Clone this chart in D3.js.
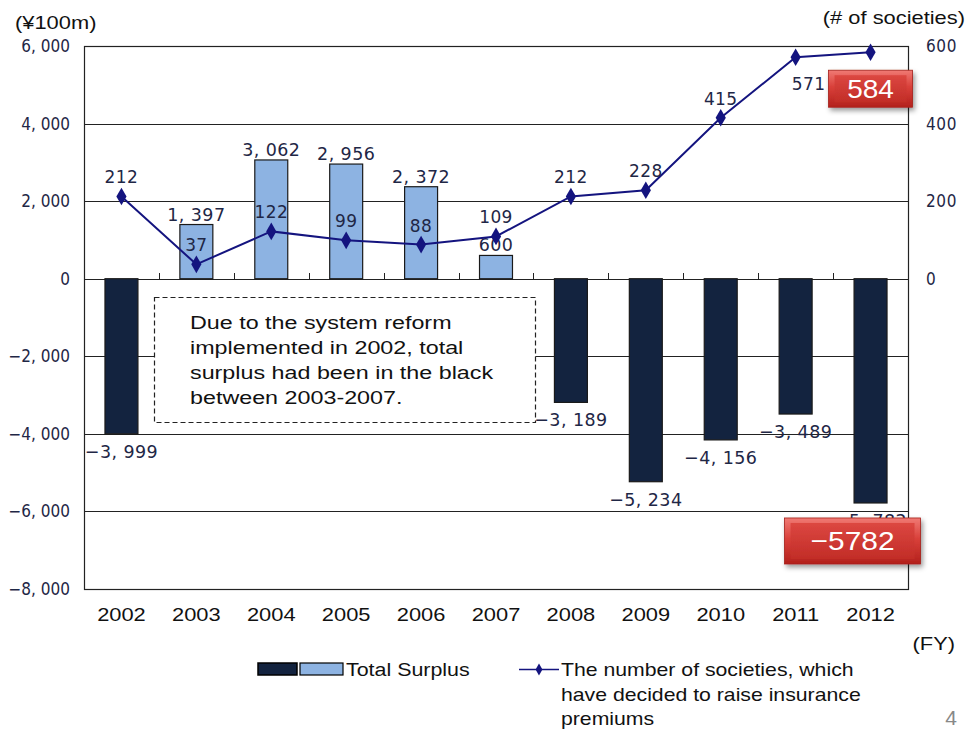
<!DOCTYPE html>
<html>
<head>
<meta charset="utf-8">
<script src="https://cdn.jsdelivr.net/npm/d3@7/dist/d3.min.js"></script>
<style>
  html, body { margin: 0; padding: 0; background: #fff; }
  svg { display: block; }
</style>
</head>
<body>
<svg id="chart" width="967" height="730"></svg>
<script>
// Fiscal years
const years = ["2002", "2003", "2004", "2005", "2006", "2007", "2008", "2009", "2010", "2011", "2012"];
// Total surplus of health insurance societies (¥100m)
const surplus = [-3999, 1397, 3062, 2956, 2372, 600, -3189, -5234, -4156, -3489, -5782];
// Number of societies that decided to raise insurance premiums
const societies = [212, 37, 122, 99, 88, 109, 212, 228, 415, 571, 584];
// Axis ticks
const leftTicks = [6000, 4000, 2000, 0, -2000, -4000, -6000, -8000];
const rightTicks = [0, 200, 400, 600];
const noteLines = [
  "Due to the system reform",
  "implemented in 2002, total",
  "surplus had been in the black",
  "between 2003-2007."
];
const legendLineText = [
  "The number of societies, which",
  "have decided to raise insurance",
  "premiums"
];

const svg = d3.select("#chart");
const M = { left: 84, right: 908, top: 46, bottom: 589 };
const SANS = "'Liberation Sans', Arial, Helvetica, sans-serif";
const NARROW = "'DejaVu Sans Condensed', 'Liberation Sans Narrow', 'Arial Narrow', sans-serif";
const LABEL_COLOR = "#1f2746";
const DARK_BAR = "#13233f";
const LIGHT_BAR = "#8db3e2";
const LINE_COLOR = "#14147f";
const SX = 1.25; // horizontal stretch of the slide text

const x = d3.scaleBand().domain(years).range([M.left, M.right])
  .paddingInner(0.56).paddingOuter(0.28);
const yL = d3.scaleLinear().domain([-8000, 6000]).range([M.bottom, M.top]);
const yR = d3.scaleLinear().domain([-800, 600]).range([M.bottom, M.top]);
const fmt = v => (v < 0 ? "\u2212" : "") + d3.format(",")(Math.abs(v)).replace(",", ", ");
const place = (px, py, sx) => `translate(${px},${py}) scale(${sx},1)`;

// defs: gradients and shadow for the callout boxes
const defs = svg.append("defs");
const g1 = defs.append("linearGradient").attr("id", "redGrad").attr("x1", 0).attr("y1", 0).attr("x2", 0).attr("y2", 1);
g1.append("stop").attr("offset", "0%").attr("stop-color", "#f07a74");
g1.append("stop").attr("offset", "45%").attr("stop-color", "#d9403a");
g1.append("stop").attr("offset", "100%").attr("stop-color", "#b3211c");
const g2 = defs.append("linearGradient").attr("id", "redInner").attr("x1", 0).attr("y1", 0).attr("x2", 0).attr("y2", 1);
g2.append("stop").attr("offset", "0%").attr("stop-color", "#dc4741");
g2.append("stop").attr("offset", "100%").attr("stop-color", "#c22d27");
const sh = defs.append("filter").attr("id", "shadow").attr("x", "-20%").attr("y", "-20%").attr("width", "150%").attr("height", "160%");
sh.append("feDropShadow").attr("dx", 2).attr("dy", 3).attr("stdDeviation", 2.5).attr("flood-color", "#000").attr("flood-opacity", 0.4);

// gridlines
svg.append("g").selectAll("line").data(leftTicks).join("line")
  .attr("x1", M.left).attr("x2", M.right)
  .attr("y1", d => Math.round(yL(d)) + 0.5).attr("y2", d => Math.round(yL(d)) + 0.5)
  .attr("stroke", "#222").attr("stroke-width", 1);

// category tick marks on the zero line
const bounds = years.slice(1).map(yr => x(yr) - x.step() * x.paddingInner() / 2);
svg.append("g").selectAll("line").data(bounds).join("line")
  .attr("x1", d => Math.round(d) + 0.5).attr("x2", d => Math.round(d) + 0.5)
  .attr("y1", Math.round(yL(0)) - 6).attr("y2", Math.round(yL(0)))
  .attr("stroke", "#222");

// plot frame
svg.append("rect")
  .attr("x", M.left + 0.5).attr("y", M.top + 0.5)
  .attr("width", M.right - M.left).attr("height", M.bottom - M.top)
  .attr("fill", "none").attr("stroke", "#222").attr("stroke-width", 1.2);

// bars
svg.append("g").selectAll("rect").data(surplus).join("rect")
  .attr("x", (d, i) => x(years[i]))
  .attr("width", x.bandwidth())
  .attr("y", d => yL(Math.max(0, d)))
  .attr("height", d => Math.abs(yL(d) - yL(0)))
  .attr("fill", d => d < 0 ? DARK_BAR : LIGHT_BAR)
  .attr("stroke", "#1a1a1a").attr("stroke-width", 1.2);

// annotation box (white fill hides gridlines behind it)
const note = svg.append("g");
note.append("rect").attr("x", 154.5).attr("y", 297.5).attr("width", 381).attr("height", 125)
  .attr("fill", "#fff").attr("stroke", "#222").attr("stroke-width", 1.2)
  .attr("stroke-dasharray", "5,3");
note.selectAll("text").data(noteLines).join("text")
  .attr("transform", (d, i) => place(190, 329 + i * 25, 1.26))
  .attr("font-family", SANS).attr("font-size", 18.5).attr("fill", "#111")
  .text(d => d);

// bar value labels
svg.append("g").selectAll("text").data(surplus).join("text")
  .attr("transform", (d, i) => place(x(years[i]) + x.bandwidth() / 2,
    d >= 0 ? yL(d) - 4 : yL(d) + 24, 1.08))
  .attr("text-anchor", "middle")
  .attr("font-family", NARROW).attr("font-size", 18).attr("letter-spacing", 0.4)
  .attr("fill", LABEL_COLOR)
  .text(d => fmt(d));

// society count line
const cx = i => x(years[i]) + x.bandwidth() / 2;
const line = d3.line().x((d, i) => cx(i)).y(d => yR(d));
svg.append("path").datum(societies)
  .attr("d", line).attr("fill", "none")
  .attr("stroke", LINE_COLOR).attr("stroke-width", 2);
svg.append("g").selectAll("path").data(societies).join("path")
  .attr("transform", (d, i) => `translate(${cx(i)},${yR(d)})`)
  .attr("d", d3.symbol(d3.symbolDiamond, 90))
  .attr("fill", LINE_COLOR);

// society count labels (the last two sit below-right of their points)
svg.append("g").selectAll("text").data(societies).join("text")
  .attr("transform", (d, i) => place(cx(i) + (i >= 9 ? 13 : 0),
    i >= 9 ? yR(d) + 33 : yR(d) - 13, 1.05))
  .attr("text-anchor", "middle")
  .attr("font-family", NARROW).attr("font-size", 18).attr("letter-spacing", 0.4)
  .attr("fill", LABEL_COLOR)
  .text(d => d);

// left axis labels
svg.append("g").selectAll("text").data(leftTicks).join("text")
  .attr("x", 70).attr("y", d => yL(d) + 6)
  .attr("text-anchor", "end")
  .attr("font-family", NARROW).attr("font-size", 17)
  .attr("fill", LABEL_COLOR)
  .text(d => fmt(d));

// right axis labels
svg.append("g").selectAll("text").data(rightTicks).join("text")
  .attr("x", 926).attr("y", d => yR(d) + 6)
  .attr("font-family", NARROW).attr("font-size", 17).attr("letter-spacing", 0.6)
  .attr("fill", LABEL_COLOR)
  .text(d => d);

// year labels
svg.append("g").selectAll("text").data(years).join("text")
  .attr("transform", d => place(x(d) + x.bandwidth() / 2, 621, SX))
  .attr("text-anchor", "middle")
  .attr("font-family", SANS).attr("font-size", 17.5).attr("fill", "#111")
  .text(d => d);

// axis titles
svg.append("text").attr("transform", place(15, 29, SX))
  .attr("font-family", SANS).attr("font-size", 17.5).attr("fill", "#111").text("(¥100m)");
svg.append("text").attr("transform", place(965, 24, SX)).attr("text-anchor", "end")
  .attr("font-family", SANS).attr("font-size", 17.5).attr("fill", "#111").text("(# of societies)");
svg.append("text").attr("transform", place(955, 650, SX)).attr("text-anchor", "end")
  .attr("font-family", SANS).attr("font-size", 17.5).attr("fill", "#111").text("(FY)");

// callout boxes for the latest values
function callout(cxv, top, w, h, label, size, sx) {
  const g = svg.append("g").attr("filter", "url(#shadow)");
  g.append("rect").attr("x", cxv - w / 2).attr("y", top).attr("width", w).attr("height", h)
    .attr("fill", "url(#redGrad)").attr("stroke", "#a41e19").attr("stroke-width", 0.8);
  g.append("rect").attr("x", cxv - w / 2 + 6).attr("y", top + 5).attr("width", w - 12).attr("height", h - 10)
    .attr("fill", "url(#redInner)");
  svg.append("text").attr("transform", place(cxv, top + h / 2 + size * 0.36, sx))
    .attr("text-anchor", "middle")
    .attr("font-family", SANS).attr("font-size", size).attr("fill", "#fff")
    .text(label);
}
const last = societies.length - 1;
callout(cx(last), yR(societies[last]) + 18, 84, 37, String(societies[last]), 25, 1.12);
callout(cx(last) - 18, yL(surplus[last]) + 15, 136, 46, "\u2212" + Math.abs(surplus[last]), 26, 1.15);

// legend
const lg = svg.append("g");
lg.append("rect").attr("x", 258).attr("y", 663).attr("width", 39).attr("height", 12)
  .attr("fill", DARK_BAR).attr("stroke", "#000").attr("stroke-width", 1.5);
lg.append("rect").attr("x", 300).attr("y", 663).attr("width", 43).attr("height", 12)
  .attr("fill", LIGHT_BAR).attr("stroke", "#000").attr("stroke-width", 1.2);
lg.append("text").attr("transform", place(346, 676, 1.19))
  .attr("font-family", SANS).attr("font-size", 18).attr("fill", "#111").text("Total Surplus");
lg.append("line").attr("x1", 519).attr("x2", 559).attr("y1", 669.5).attr("y2", 669.5)
  .attr("stroke", LINE_COLOR).attr("stroke-width", 1.5);
lg.append("path").attr("transform", "translate(539,669.5)")
  .attr("d", d3.symbol(d3.symbolDiamond, 40)).attr("fill", LINE_COLOR);
lg.selectAll("text.l2").data(legendLineText).join("text").attr("class", "l2")
  .attr("transform", (d, i) => place(561, 676 + i * 24.5, 1.18))
  .attr("font-family", SANS).attr("font-size", 18).attr("fill", "#111").text(d => d);

// page number
svg.append("text").attr("x", 957).attr("y", 725).attr("text-anchor", "end")
  .attr("font-family", SANS).attr("font-size", 21).attr("fill", "#888").text("4");
</script>
</body>
</html>
